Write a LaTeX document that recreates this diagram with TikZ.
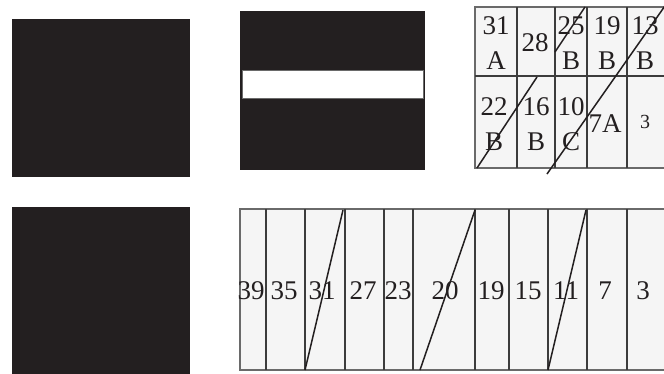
\documentclass[tikz,border=0pt]{standalone}
\usepackage{fontspec}
\setmainfont{Liberation Serif}
\definecolor{ink}{HTML}{231F20}
\definecolor{cellbg}{HTML}{F5F5F5}
\definecolor{gridc}{HTML}{3C3C3C}
\definecolor{rimc}{HTML}{6A6A6A}
\begin{document}
\begin{tikzpicture}[x=1pt,y=-1pt,
  lab/.style={font=\fontsize{27}{35}\selectfont, align=center, inner sep=0pt, text=ink},
  smalllab/.style={font=\fontsize{20}{22}\selectfont, inner sep=0pt, text=ink},
  gridline/.style={draw=gridc, line width=2pt},
  rim/.style={fill=cellbg, draw=rimc, line width=2.4pt},
  diag/.style={draw=ink, line width=1.5pt}]
\clip (0,0) rectangle (664,373);
\fill[white] (0,0) rectangle (664,373);
% black blocks
\fill[ink] (12,19) rectangle (190,177);
\fill[ink] (240,11) rectangle (425,170);
\draw[draw=rimc, line width=1pt, fill=white] (242,70) rectangle (423,98);
\fill[ink] (12,207) rectangle (190,380);
% top-right grid
\draw[rim] (475,7) rectangle (690,168);
\draw[gridline] (475,76) -- (690,76);
\foreach \x in {517,555,587,627} \draw[gridline] (\x,7) -- (\x,168);
\node[lab] (t31) at (496,43) {31\\A};
\node[lab] (t28) at (535,43) {28};
\node[lab] (t25) at (571,43) {25\\B};
\node[lab] (t19) at (607,43) {19\\B};
\node[lab] (t13) at (645,43) {13\\B};
\node[lab] (t22) at (494,124) {22\\B};
\node[lab] (t16) at (536,124) {16\\B};
\node[lab] (t10) at (571,124) {10\\C};
\node[lab] (t7) at (605,124) {7A};
\node[smalllab] (t3) at (645,122) {3};
\coordinate (da1) at (477,168);
\coordinate (da2) at (537,77);
\coordinate (da3) at (555,52);
\coordinate (da4) at (585,7);
\coordinate (db1) at (547,174);
\coordinate (db2) at (667,3);
\draw[diag] (da1) -- (da2);
\draw[diag] (da3) -- (da4);
\draw[diag] (db1) -- (db2);
% bottom-right grid
\draw[rim] (240,209) rectangle (690,370);
\foreach \x in {266,305,345,384,413,475,509,548,587,627} \draw[gridline] (\x,209) -- (\x,370);
\foreach \n/\x in {39/251,35/284,31/322,27/363,23/398,20/445,19/491,15/528,11/566,7/605,3/643}
  \node[lab] (b\n) at (\x,291) {\n};
\coordinate (e1) at (305,370);
\coordinate (e2) at (343,210);
\coordinate (f1) at (420,370);
\coordinate (f2) at (475,210);
\coordinate (g1) at (548,370);
\coordinate (g2) at (586,210);
\draw[diag] (e1) -- (e2);
\draw[diag] (f1) -- (f2);
\draw[diag] (g1) -- (g2);
\end{tikzpicture}
\end{document}
